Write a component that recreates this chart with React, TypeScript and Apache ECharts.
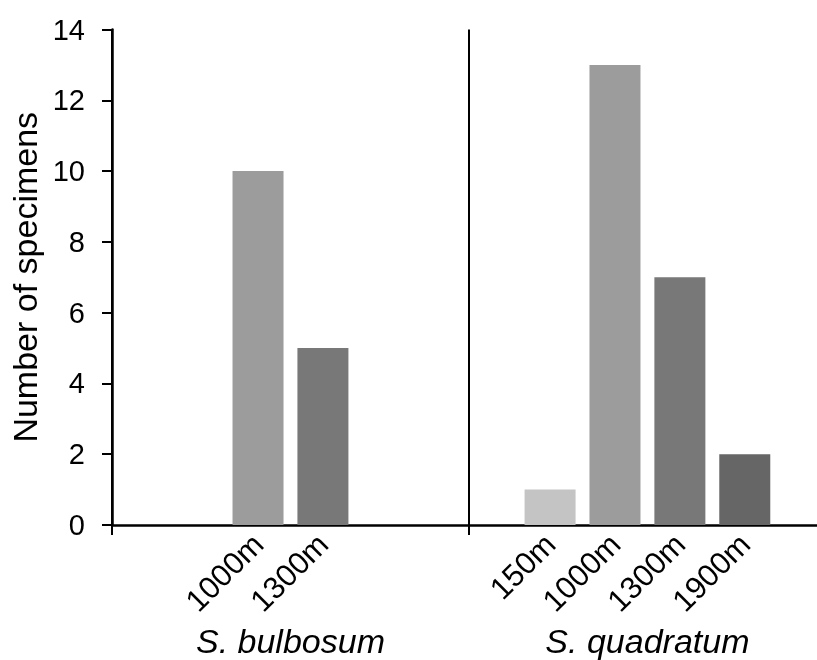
import React, { useEffect, useRef } from "react";
import * as echarts from "echarts";

const species = ["S. bulbosum", "S. quadratum"];
const elevationClasses = ["150m", "1000m", "1300m", "1900m"];
const bulbosumElevations = ["1000m", "1300m"];
const bulbosumCounts = [10, 5];
const quadratumElevations = ["150m", "1000m", "1300m", "1900m"];
const quadratumCounts = [1, 13, 7, 2];
const yTicks = [0, 2, 4, 6, 8, 10, 12, 14];

const elevationColors: Record<string, string> = {
  "150m": "#c4c4c4",
  "1000m": "#9c9c9c",
  "1300m": "#787878",
  "1900m": "#666666",
};

const SLOTS_PER_SPECIES = 11;
const FONT = "Liberation Sans, Arial, sans-serif";

export default function App() {
  const ref = useRef<HTMLDivElement>(null);
  useEffect(() => {
    if (!ref.current) return;
    const chart = echarts.init(ref.current, null, { renderer: "svg" });

    const speciesData = [
      { elev: bulbosumElevations, counts: bulbosumCounts },
      { elev: quadratumElevations, counts: quadratumCounts },
    ];
    const cats: string[] = [];
    const data: any[] = [];
    speciesData.forEach((sp, si) => {
      for (let s = 0; s < SLOTS_PER_SPECIES; s++) {
        cats.push(`${si}-${s}`);
        data.push("-");
      }
      sp.elev.forEach((e, i) => {
        const k = elevationClasses.indexOf(e);
        const slot = si * SLOTS_PER_SPECIES + 2 + 2 * k;
        cats[slot] = `${si}-${slot}|${e}`;
        data[slot] = { value: sp.counts[i], itemStyle: { color: elevationColors[e] } };
      });
    });

    const total = cats.length;
    chart.setOption({
      animation: false,
      grid: {
        left: 112,
        top: 29.5,
        width: total * 32.45,
        height: 495.5,
        containLabel: false,
        outerBoundsMode: "none",
      },
      xAxis: [
        {
          type: "category",
          data: cats,
          boundaryGap: true,
          axisLine: { show: true, lineStyle: { color: "#000", width: 2.5 } },
          axisTick: {
            show: true,
            length: 10,
            interval: SLOTS_PER_SPECIES - 1,
            lineStyle: { color: "#000", width: 2 },
          },
          splitLine: {
            show: true,
            interval: SLOTS_PER_SPECIES - 1,
            lineStyle: { color: "#000", width: 2 },
          },
          axisLabel: {
            interval: () => true,
            showMaxLabel: false,
            rotate: 45,
            margin: 14,
            fontFamily: FONT,
            fontSize: 31,
            color: "#000",
            formatter: (v: string) => (v.includes("|") ? v.split("|")[1] : ""),
          },
        },
        {
          type: "category",
          data: species,
          position: "bottom",
          offset: 91,
          axisLine: { show: false },
          axisTick: { show: false },
          splitLine: { show: false },
          axisLabel: {
            interval: 0,
            margin: 8,
            fontFamily: FONT,
            fontStyle: "italic",
            fontSize: 34,
            color: "#000",
          },
        },
      ],
      yAxis: {
        type: "value",
        min: yTicks[0],
        max: yTicks[yTicks.length - 1],
        interval: 2,
        name: "Number of specimens",
        nameLocation: "middle",
        nameGap: 68,
        nameTextStyle: {
          fontFamily: FONT,
          fontSize: 34,
          color: "#000",
        },
        axisLine: { show: true, lineStyle: { color: "#000", width: 2.5 } },
        axisTick: { show: true, length: 10, lineStyle: { color: "#000", width: 2 } },
        splitLine: { show: false },
        axisLabel: {
          margin: 27,
          fontFamily: FONT,
          fontSize: 29,
          color: "#000",
        },
      },
      series: [
        {
          type: "bar",
          xAxisIndex: 0,
          data,
          barWidth: 51,
          itemStyle: { borderWidth: 0 },
        },
      ],
    });
    return () => chart.dispose();
  }, []);
  return (
    <div
      ref={ref}
      style={{ position: "fixed", left: 0, top: 0, width: 817, height: 660 }}
    />
  );
}
